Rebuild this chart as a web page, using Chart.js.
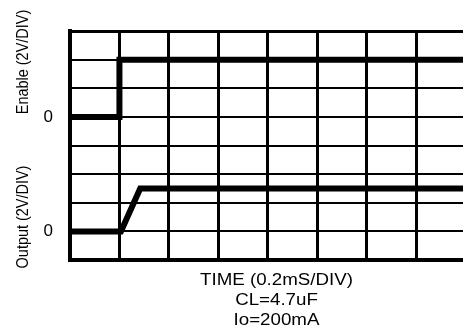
<!DOCTYPE html>
<html>
<head>
<meta charset="utf-8">
<script src="https://cdn.jsdelivr.net/npm/chart.js@4"></script>
<style>
  body { margin: 0; background: #fff; }
</style>
</head>
<body>
<canvas id="scope" width="463" height="331"></canvas>
<script>
// values in divisions (x: 0.2mS/DIV, y: 2V/DIV)
const enableTime = [0, 1, 1, 7.95];
const enableLevel = [5, 5, 7, 7];
const outputTime = [0, 1.03, 1.42, 7.95];
const outputLevel = [1, 1, 2.5, 2.5];

const zeroTicks = [1, 5];
const zeroLabels = ['0', '0'];
const sideLabels = ['Enable (2V/DIV)', 'Output (2V/DIV)'];
const bottomLines = ['TIME (0.2mS/DIV)', 'CL=4.7uF', 'Io=200mA'];

const toPoints = (xs, ys) => xs.map((x, i) => ({ x: x, y: ys[i] }));

// labels that chart.js can't place by itself
const textPlugin = {
    id: 'scopeText',
    afterDraw(chart) {
        const c = chart.ctx;
        c.save();
        c.fillStyle = '#000';
        c.textAlign = 'center';
        c.textBaseline = 'alphabetic';
        c.font = '17px "Liberation Sans", Arial, sans-serif';
        const sideY = [62, 217];
        sideLabels.forEach((t, i) => {
            c.save();
            c.translate(28, sideY[i]);
            c.rotate(-Math.PI / 2);
            c.scale(0.85, 1);
            c.fillText(t, 0, 0);
            c.restore();
        });
        c.font = '16px "Liberation Sans", Arial, sans-serif';
        bottomLines.forEach((t, i) => {
            c.save();
            c.translate(276.5, 285 + i * 20);
            c.scale(1.17, 1);
            c.fillText(t, 0, 0);
            c.restore();
        });
        c.restore();
    }
};

new Chart(document.getElementById('scope'), {
    type: 'scatter',
    data: {
        datasets: [{
            label: 'Enable',
            data: toPoints(enableTime, enableLevel),
            showLine: true,
            borderColor: '#000',
            borderWidth: 6,
            borderJoinStyle: 'miter',
            pointRadius: 0
        },
        {
            label: 'Output',
            data: toPoints(outputTime, outputLevel),
            showLine: true,
            borderColor: '#000',
            borderWidth: 6,
            borderJoinStyle: 'miter',
            pointRadius: 0
        }]
    },
    options: {
        responsive: false,
        animation: false,
        layout: { padding: { top: 31, right: 0, left: 0, bottom: 0 } },
        plugins: {
            legend: { display: false },
            tooltip: { enabled: false }
        },
        scales: {
            x: {
                type: 'linear',
                min: 0,
                max: 7.95,
                afterBuildTicks: (s) => { s.ticks = s.ticks.filter(t => Number.isInteger(t.value)); },
                afterFit: (s) => { s.height = 71; },
                ticks: { display: false, stepSize: 1 },
                grid: { color: '#000', lineWidth: 3, drawTicks: false },
                border: { color: '#000', width: 4 }
            },
            y: {
                type: 'linear',
                min: 0,
                max: 8,
                afterFit: (s) => { s.width = 70; },
                ticks: {
                    stepSize: 1,
                    padding: 17,
                    color: '#000',
                    font: { family: '"Liberation Sans", Arial, sans-serif', size: 17 },
                    callback: (v) => {
                        const i = zeroTicks.indexOf(v);
                        return i >= 0 ? zeroLabels[i] : '';
                    }
                },
                grid: {
                    color: '#000',
                    lineWidth: (ctx) => (ctx.tick && ctx.tick.value === 8 ? 3 : 2),
                    drawTicks: false
                },
                border: { color: '#000', width: 4 }
            }
        }
    },
    plugins: [textPlugin]
});
</script>
</body>
</html>
